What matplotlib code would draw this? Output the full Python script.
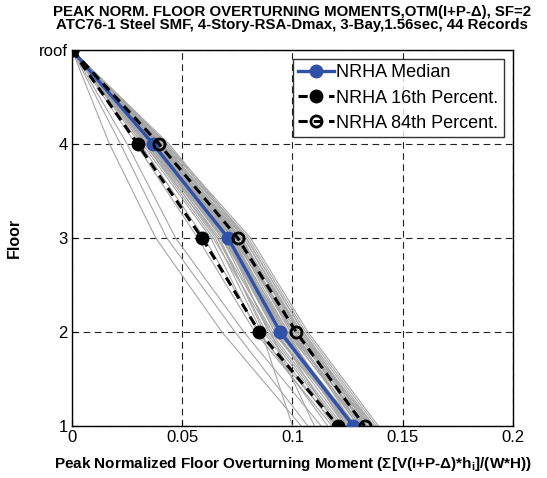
import numpy as np
import matplotlib.pyplot as plt

plt.rcParams['font.family'] = ['Liberation Sans', 'DejaVu Sans']

floors = [5, 4, 3, 2, 1]
floor_labels = ['1', '2', '3', '4', 'roof']

# peak normalized OTM of each record at floors 4, 3, 2, 1 (roof is zero)
rec_f4 = [0.017, 0.022, 0.025, 0.029, 0.031, 0.032, 0.033, 0.033, 0.034, 0.034, 0.035,
          0.035, 0.035, 0.036, 0.036, 0.036, 0.037, 0.037, 0.037, 0.037, 0.038, 0.038,
          0.038, 0.038, 0.039, 0.039, 0.039, 0.039, 0.040, 0.040, 0.040, 0.040, 0.041,
          0.041, 0.041, 0.042, 0.042, 0.043, 0.043, 0.044, 0.036, 0.034, 0.038, 0.040]
rec_f3 = [0.038, 0.043, 0.047, 0.057, 0.060, 0.063, 0.066, 0.064, 0.067, 0.069, 0.068,
          0.070, 0.071, 0.066, 0.072, 0.069, 0.071, 0.073, 0.070, 0.074, 0.072, 0.075,
          0.069, 0.076, 0.071, 0.073, 0.077, 0.074, 0.072, 0.078, 0.075, 0.076, 0.074,
          0.079, 0.077, 0.076, 0.080, 0.078, 0.081, 0.079, 0.068, 0.065, 0.073, 0.070]
rec_f2 = [0.068, 0.074, 0.078, 0.083, 0.085, 0.084, 0.088, 0.090, 0.087, 0.092, 0.094,
          0.089, 0.095, 0.091, 0.096, 0.093, 0.097, 0.095, 0.092, 0.098, 0.096, 0.099,
          0.094, 0.100, 0.097, 0.101, 0.099, 0.102, 0.098, 0.103, 0.100, 0.104, 0.101,
          0.105, 0.102, 0.103, 0.106, 0.104, 0.107, 0.105, 0.090, 0.086, 0.097, 0.093]
rec_f1 = [0.104, 0.107, 0.113, 0.118, 0.116, 0.120, 0.121, 0.123, 0.119, 0.124, 0.125,
          0.122, 0.126, 0.127, 0.124, 0.128, 0.126, 0.129, 0.127, 0.130, 0.128, 0.131,
          0.129, 0.130, 0.132, 0.128, 0.133, 0.131, 0.134, 0.132, 0.135, 0.133, 0.136,
          0.134, 0.137, 0.135, 0.138, 0.136, 0.139, 0.137, 0.110, 0.100, 0.125, 0.120]

median = [0.0, 0.0368, 0.0708, 0.0945, 0.1277]
p16 = [0.0, 0.0298, 0.0590, 0.0850, 0.1208]
p84 = [0.0, 0.0395, 0.0752, 0.1017, 0.1327]

fig = plt.figure(figsize=(5.47, 4.78), dpi=100)
ax = fig.add_axes([0.1316, 0.1088, 0.8060, 0.7866])

for a, b, c, d in zip(rec_f4, rec_f3, rec_f2, rec_f1):
    ax.plot([0.0, a, b, c, d], floors, color='#a6a6a6', lw=0.8, zorder=2)

ax.plot(median, floors, '-o', color='#2f52a8', lw=2.4, ms=9,
        label='NRHA Median', zorder=4)
ax.plot(p16, floors, '--o', color='k', lw=2.2, ms=9, dashes=(3, 2),
        label='NRHA 16th Percent.', zorder=5)
ax.plot(p84, floors, '--o', color='k', lw=2.2, ms=8, mfc='none', mew=2,
        dashes=(3, 2), label='NRHA 84th Percent.', zorder=5)

ax.set_xlim(0, 0.2)
ax.set_ylim(1, 5)
ax.set_xticks([0, 0.05, 0.1, 0.15, 0.2])
ax.set_xticklabels(['0', '0.05', '0.1', '0.15', '0.2'])
ax.set_yticks([1, 2, 3, 4, 5])
ax.set_yticklabels(floor_labels)
ax.tick_params(direction='in', labelsize=12, length=4, width=0.8, pad=3)
ax.grid(True, color='#222222', linestyle=(0, (6, 4)), lw=0.8)
ax.set_axisbelow(True)
for s in ax.spines.values():
    s.set_linewidth(1.0)

ax.set_xlabel('Peak Normalized Floor Overturning Moment (\u03a3[V(I+P-\u0394)*h$_\\mathregular{i}$]/(W*H))',
              fontsize=11, fontweight='bold', labelpad=7)
ax.set_ylabel('Floor', fontsize=11.5, fontweight='bold', labelpad=12)
ax.set_title('PEAK NORM. FLOOR OVERTURNING MOMENTS,OTM(I+P-\u0394), SF=2\n'
             'ATC76-1 Steel SMF, 4-Story-RSA-Dmax, 3-Bay,1.56sec, 44 Records',
             fontsize=10.8, fontweight='bold', linespacing=0.95, pad=15)

leg = ax.legend(loc='upper right', fontsize=13, frameon=True, fancybox=False,
                edgecolor='k', borderpad=0.3, labelspacing=0.45, handlelength=2.0,
                handletextpad=0.1, borderaxespad=0.5)
leg.get_frame().set_linewidth(1.0)

fig.savefig('out.png', dpi=100)
